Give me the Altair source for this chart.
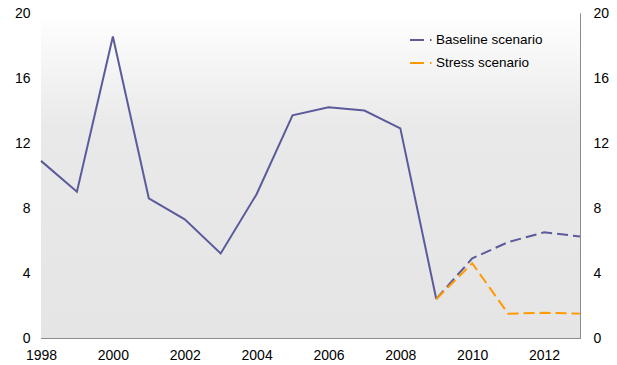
import altair as alt
import pandas as pd

# Historical series
hist_years = [1998, 1999, 2000, 2001, 2002, 2003, 2004, 2005, 2006, 2007, 2008, 2009]
hist_values = [10.9, 9.0, 18.55, 8.6, 7.3, 5.2, 8.85, 13.7, 14.2, 14.0, 12.9, 2.4]

# Projections
proj_years = [2009, 2010, 2011, 2012, 2013]
baseline_values = [2.4, 4.9, 5.9, 6.5, 6.25]
stress_values = [2.4, 4.6, 1.5, 1.55, 1.5]

scenarios = ["Baseline scenario", "Stress scenario"]
colors = ["#5b5b9c", "#ff9a00"]

y_ticks = [0, 4, 8, 12, 16, 20]
x_ticks = [1998, 2000, 2002, 2004, 2006, 2008, 2010, 2012]

hist_df = pd.DataFrame({"year": hist_years, "value": hist_values})
proj_df = pd.DataFrame({
    "year": proj_years * 2,
    "value": baseline_values + stress_values,
    "scenario": [scenarios[0]] * len(proj_years) + [scenarios[1]] * len(proj_years),
})

FONT = "Liberation Sans"
x_enc = alt.X("year:Q", scale=alt.Scale(domain=[1998, 2013], nice=False, zero=False),
              axis=alt.Axis(values=x_ticks, format="d", title=None, labelFlush=False,
                            grid=False, domainColor="#8c8c8c", tickColor="#8c8c8c",
                            tickSize=alt.ExprRef(expr="-5"), labelPadding=15,
                            labelFontSize=14, labelFont=FONT, labelColor="#000000"))
y_scale = alt.Scale(domain=[0, 20], nice=False)

def y_axis(orient, pad):
    return alt.Axis(orient=orient, values=y_ticks, title=None, grid=False,
                    domainColor="#8c8c8c", tickColor="#8c8c8c",
                    tickSize=alt.ExprRef(expr="-5"), labelPadding=pad,
                    labelFontSize=14, labelFont=FONT, labelColor="#000000")

bg = alt.Chart(pd.DataFrame({"a": [0]})).mark_rect(
    color=alt.LinearGradient(
        gradient="linear", x1=0, y1=0, x2=0, y2=1,
        stops=[alt.GradientStop(offset=0, color="#ffffff"),
               alt.GradientStop(offset=0.35, color="#e9e9e9"),
               alt.GradientStop(offset=1, color="#e5e5e5")]),
).encode(x=alt.value(0), x2=alt.value("width"), y=alt.value(0), y2=alt.value("height"))

hist = alt.Chart(hist_df).mark_line(color=colors[0], strokeWidth=2).encode(
    x=x_enc,
    y=alt.Y("value:Q", scale=y_scale, axis=y_axis("left", 16)),
)

proj = alt.Chart(proj_df).mark_line(strokeWidth=2, strokeDash=[11, 5]).encode(
    x=x_enc,
    y=alt.Y("value:Q", scale=y_scale, axis=y_axis("right", 18)),
    color=alt.Color("scenario:N", scale=alt.Scale(domain=scenarios, range=colors),
                    legend=alt.Legend(title=None, orient="none", legendX=368, legendY=15,
                                      symbolType="stroke", symbolSize=484,
                                      symbolStrokeWidth=2, symbolDash=[14, 6, 1.5, 20],
                                      labelFontSize=13.5, labelFont=FONT,
                                      labelColor="#000000", labelOffset=3,
                                      rowPadding=4, padding=0)),
)

chart = alt.layer(bg, hist, proj).resolve_axis(y="independent").properties(
    width=539, height=325,
    autosize=alt.AutoSizeParams(type="none"),
    padding={"left": 33, "top": 5, "right": 29, "bottom": 27},
).configure_view(stroke=None)

chart.save("out.html", embed_options={"renderer": "svg", "actions": False})
